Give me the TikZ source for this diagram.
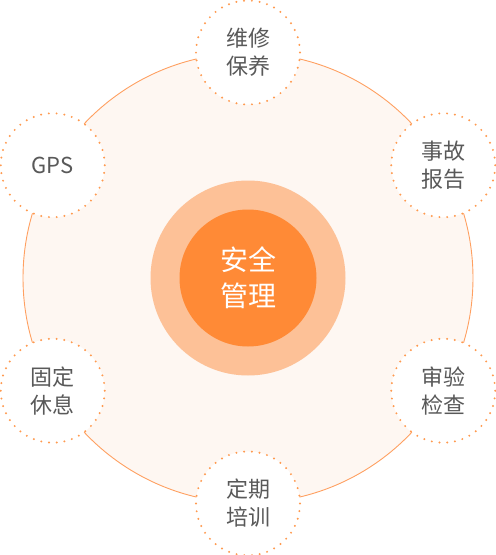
\documentclass[tikz,border=0pt]{standalone}
\usepackage{fontspec}
\setmainfont{Noto Sans CJK SC}
\definecolor{ringline}{HTML}{FFA061}
\definecolor{ringfill}{HTML}{FEF7F2}
\definecolor{dotorange}{HTML}{FF9A4F}
\definecolor{softorange}{HTML}{FDC197}
\definecolor{coreorange}{HTML}{FF8A36}
\definecolor{textgray}{HTML}{595959}

\begin{document}
\begin{tikzpicture}[x=1pt,y=-1pt,
  item/.style={circle,minimum size=104pt,inner sep=0pt,fill=white,
    draw=dotorange,line width=2.2pt,line cap=round,dash pattern=on 0pt off 7.78pt,
    text=textgray,align=center,font=\fontsize{22}{28}\selectfont}]
\useasboundingbox (0,0) rectangle (496,555);
% big ring
\node[circle,minimum size=450pt,inner sep=0pt,fill=ringfill,draw=ringline,line width=0.9pt] (ring) at (248,278) {};
% centre
\node[circle,minimum size=195pt,inner sep=0pt,fill=softorange] (halo) at (248,278) {};
\node[circle,minimum size=137pt,inner sep=0pt,fill=coreorange,text=white,align=center,
  font=\fontsize{28}{36}\selectfont] (core) at (248,278) {安全\\管理};
% items on the ring
\node[item] (repair) at (ring.90) {维修\\保养};
\node[item] (report) at (ring.30) {事故\\报告};
\node[item] (check) at (ring.-30) {审验\\检查};
\node[item] (train) at (ring.-90) {定期\\培训};
\node[item] (rest) at (ring.-150) {固定\\休息};
\node[item] (gps) at (ring.150) {GPS};
\end{tikzpicture}
\end{document}
